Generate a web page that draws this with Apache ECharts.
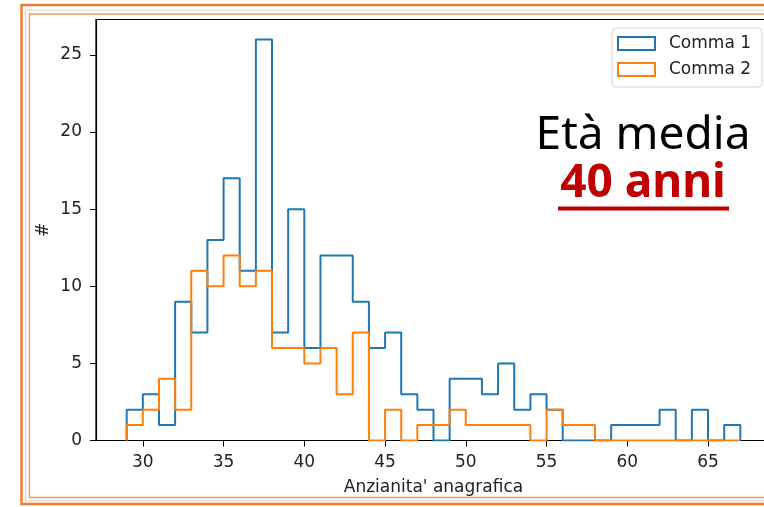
<!DOCTYPE html>
<html>
<head>
<meta charset="utf-8">
<script src="https://cdn.jsdelivr.net/npm/echarts@6/dist/echarts.min.js"></script>
<style>
html, body { margin: 0; padding: 0; background: #fff; }
#chart { width: 764px; height: 507px; }
</style>
</head>
<body>
<div id="chart"></div>
<script>
// bin edges (one year per bin) and counts per bin
const binEdges = [29, 30, 31, 32, 33, 34, 35, 36, 37, 38, 39, 40, 41, 42, 43, 44, 45, 46, 47, 48,
  49, 50, 51, 52, 53, 54, 55, 56, 57, 58, 59, 60, 61, 62, 63, 64, 65, 66, 67]
const comma1 = [2, 3, 1, 9, 7, 13, 17, 11, 26, 7, 15, 6, 12, 12, 9, 6, 7, 3, 2, 0,
  4, 4, 3, 5, 2, 3, 2, 0, 0, 0, 1, 1, 1, 2, 0, 2, 0, 1]
const comma2 = [1, 2, 4, 2, 11, 10, 12, 10, 11, 6, 6, 5, 6, 3, 7, 0, 2, 0, 1, 1,
  2, 1, 1, 1, 1, 0, 2, 1, 1, 0, 0, 0, 0, 0, 0, 0, 0, 0]
const seriesNames = ['Comma 1', 'Comma 2']
const xTicks = [30, 35, 40, 45, 50, 55, 60, 65]
const yTicks = [0, 5, 10, 15, 20, 25]

const txtFont = 'DejaVu Sans'
const txtColor = '#222'

// outline of a step histogram
const stepData = (counts) => {
  let pts = [[binEdges[0], 0]]
  counts.forEach((c, i) => {
    pts.push([binEdges[i], c])
  })
  pts.push([binEdges[binEdges.length - 1], 0])
  return pts
}

const chart = echarts.init(document.getElementById('chart'))

let option = {
  animation: false,
  grid: {
    show: true,
    left: 96,
    top: 19.5,
    width: 675,
    height: 421,
    outerBoundsMode: 'none',
    borderColor: '#000',
    borderWidth: 1.2,
    backgroundColor: 'transparent'
  },
  legend: {
    data: [
      {name: seriesNames[0], icon: 'emptyRect'},
      {name: seriesNames[1], icon: 'emptyRect'}
    ],
    orient: 'vertical',
    left: 612,
    top: 28,
    itemWidth: 37,
    itemHeight: 13,
    itemGap: 9,
    padding: [7, 11, 9, 5],
    borderColor: '#d5d5d5',
    borderWidth: 1,
    borderRadius: 4,
    backgroundColor: '#fff',
    textStyle: {
      fontFamily: txtFont,
      fontSize: 17,
      color: txtColor,
      padding: [0, 0, 0, 9]
    }
  },
  xAxis: {
    type: 'value',
    min: 27.1,
    max: 68.9,
    name: "Anzianita' anagrafica",
    nameLocation: 'middle',
    nameGap: 39,
    nameTextStyle: {fontFamily: txtFont, fontSize: 17, color: txtColor},
    axisLine: {show: true, onZero: false, lineStyle: {color: '#000', width: 1.2}},
    axisTick: {show: true, length: 6, customValues: xTicks, lineStyle: {color: '#000'}},
    axisLabel: {customValues: xTicks, margin: 14, fontFamily: txtFont, fontSize: 17, color: txtColor},
    splitLine: {show: false}
  },
  yAxis: {
    type: 'value',
    min: 0,
    max: 27.3,
    name: '#',
    nameLocation: 'middle',
    nameGap: 44,
    nameMoveOverlap: false,
    nameTextStyle: {fontFamily: txtFont, fontSize: 17, color: txtColor},
    axisLine: {show: true, lineStyle: {color: '#000', width: 1.2}},
    axisTick: {show: true, length: 6, customValues: yTicks, lineStyle: {color: '#000'}},
    axisLabel: {customValues: yTicks, margin: 14, fontFamily: txtFont, fontSize: 17, color: txtColor},
    splitLine: {show: false}
  },
  series: [
    {
      name: seriesNames[0],
      type: 'line',
      step: 'end',
      symbol: 'none',
      color: '#1f77b4',
      lineStyle: {width: 2, color: '#1f77b4'},
      data: stepData(comma1)
    },
    {
      name: seriesNames[1],
      type: 'line',
      step: 'end',
      symbol: 'none',
      color: '#ff7f0e',
      lineStyle: {width: 2, color: '#ff7f0e'},
      data: stepData(comma2)
    }
  ],
  graphic: [
    // slide frame
    {type: 'rect', shape: {x: 21.5, y: 5, width: 800, height: 499}, style: {fill: 'none', stroke: '#ED7D31', lineWidth: 2.5}},
    {type: 'rect', shape: {x: 25.5, y: 10, width: 800, height: 491}, style: {fill: 'none', stroke: '#F8CBAD', lineWidth: 1.2}},
    {type: 'rect', shape: {x: 29.5, y: 14, width: 800, height: 483.5}, style: {fill: 'none', stroke: '#F0965A', lineWidth: 1.3}},
    // annotation
    {
      type: 'text', x: 643, y: 136, z: 10,
      style: {text: 'Età media', fill: '#000', font: '46px "Noto Sans"', textAlign: 'center', textVerticalAlign: 'middle'}
    },
    {
      type: 'text', x: 643, y: 183.5, z: 10,
      style: {text: '40 anni', fill: '#C00000', font: 'bold 46px "Noto Sans"', textAlign: 'center', textVerticalAlign: 'middle'}
    },
    {type: 'rect', z: 10, shape: {x: 558, y: 206.5, width: 171, height: 4}, style: {fill: '#C00000'}}
  ]
}

chart.setOption(option)
</script>
</body>
</html>
